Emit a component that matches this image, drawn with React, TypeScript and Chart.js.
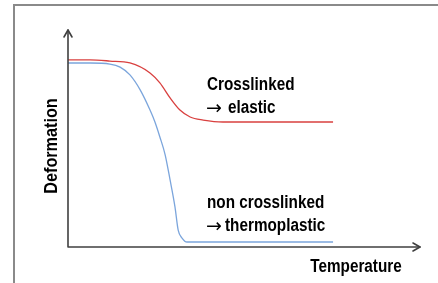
import React, { useEffect, useRef } from "react";
import { Chart, registerables } from "chart.js";

Chart.register(...registerables);

const crosslinkedX = [0, 6.3, 11.9, 17.6, 23.3, 26.1, 29.0, 31.8, 34.7, 38.4, 44.0, 51.7, 75.3];
const crosslinkedY = [86.2, 86.2, 85.7, 84.8, 80.2, 75.6, 68.7, 63.1, 59.9, 58.5, 57.6, 57.6, 57.6];
const nonCrosslinkedX = [0, 6.3, 11.9, 14.8, 17.6, 20.5, 23.3, 24.7, 26.1, 27.6, 29.0, 30.4, 31.3, 32.4, 33.8, 37.5, 75.3];
const nonCrosslinkedY = [84.8, 84.8, 84.3, 82.9, 79.3, 72.4, 63.1, 57.6, 50.7, 42.5, 30.9, 18.4, 7.8, 4.1, 2.3, 2.3, 2.3];

const xAxisTitle = "Temperature";
const yAxisTitle = "Deformation";
const crosslinkedLabel = ["Crosslinked", "\u2192", "elastic"];
const nonCrosslinkedLabel = ["non crosslinked", "\u2192", "thermoplastic"];

const FONT = "bold 18px 'Liberation Sans', Arial, sans-serif";
const ARROW_FONT = "19px 'DejaVu Sans', 'Noto Sans', sans-serif";
const SQUEEZE = 0.85;

function narrowText(ctx: any, text: string, x: number, y: number, sx: number) {
  ctx.save();
  ctx.translate(x, y);
  ctx.scale(sx, 1);
  ctx.fillText(text, 0, 0);
  ctx.restore();
}

const decorPlugin = {
  id: "decor",
  beforeDraw(chart: any) {
    const ctx = chart.ctx;
    ctx.save();
    ctx.fillStyle = "#ffffff";
    ctx.fillRect(0, 0, chart.width, chart.height);
    ctx.strokeStyle = "#8a8a8a";
    ctx.lineWidth = 2;
    ctx.beginPath();
    ctx.moveTo(14, chart.height + 2);
    ctx.lineTo(14, 5);
    ctx.lineTo(chart.width + 2, 5);
    ctx.stroke();
    ctx.restore();
  },
  afterDatasetsDraw(chart: any) {
    const ctx = chart.ctx;
    const { left, right, top, bottom } = chart.chartArea;
    ctx.save();
    ctx.strokeStyle = "#404040";
    ctx.lineWidth = 1.6;
    ctx.lineCap = "round";
    ctx.lineJoin = "round";
    ctx.beginPath();
    ctx.moveTo(left, top);
    ctx.lineTo(left, bottom);
    ctx.lineTo(right, bottom);
    ctx.stroke();
    ctx.beginPath();
    ctx.moveTo(left - 4, top + 7);
    ctx.lineTo(left, top);
    ctx.lineTo(left + 4, top + 7);
    ctx.moveTo(right - 7, bottom - 4);
    ctx.lineTo(right, bottom);
    ctx.lineTo(right - 7, bottom + 4);
    ctx.stroke();

    ctx.fillStyle = "#000000";
    ctx.textBaseline = "alphabetic";
    ctx.textAlign = "left";
    ctx.font = FONT;
    narrowText(ctx, crosslinkedLabel[0], 207, 90, SQUEEZE);
    narrowText(ctx, crosslinkedLabel[2], 228, 113, SQUEEZE);
    narrowText(ctx, nonCrosslinkedLabel[0], 207, 208, SQUEEZE);
    narrowText(ctx, nonCrosslinkedLabel[2], 225, 231, SQUEEZE);
    ctx.font = ARROW_FONT;
    ctx.fillText(crosslinkedLabel[1], 206, 113.5);
    ctx.fillText(nonCrosslinkedLabel[1], 206, 231.5);

    ctx.font = FONT;
    ctx.textAlign = "center";
    narrowText(ctx, xAxisTitle, 356, 272, SQUEEZE);
    ctx.translate(57, 146);
    ctx.rotate(-Math.PI / 2);
    narrowText(ctx, yAxisTitle, 0, 0, 0.9);
    ctx.restore();
  },
};

export default function App() {
  const ref = useRef<HTMLCanvasElement>(null);
  useEffect(() => {
    if (!ref.current) return;
    const chart = new Chart(ref.current, {
      type: "line",
      data: {
        datasets: [
          {
            label: "Crosslinked",
            data: crosslinkedX.map((x, i) => ({ x, y: crosslinkedY[i] })),
            borderColor: "#d9403f",
            borderWidth: 1.3,
            pointRadius: 0,
            cubicInterpolationMode: "monotone",
            fill: false,
          },
          {
            label: "non crosslinked",
            data: nonCrosslinkedX.map((x, i) => ({ x, y: nonCrosslinkedY[i] })),
            borderColor: "#7ba5dc",
            borderWidth: 1.3,
            pointRadius: 0,
            cubicInterpolationMode: "monotone",
            fill: false,
          },
        ],
      },
      options: {
        animation: false,
        responsive: false,
        devicePixelRatio: 1,
        layout: { padding: { left: 68, top: 30, right: 18, bottom: 36 } },
        plugins: { legend: { display: false }, tooltip: { enabled: false } },
        scales: {
          x: { type: "linear", min: 0, max: 100, display: false },
          y: { type: "linear", min: 0, max: 100, display: false },
        },
      },
      plugins: [decorPlugin],
    } as any);
    return () => chart.destroy();
  }, []);
  return (
    <div style={{ position: "fixed", left: 0, top: 0, width: 438, height: 283 }}>
      <canvas ref={ref} width={438} height={283} style={{ display: "block", width: 438, height: 283 }} />
    </div>
  );
}
